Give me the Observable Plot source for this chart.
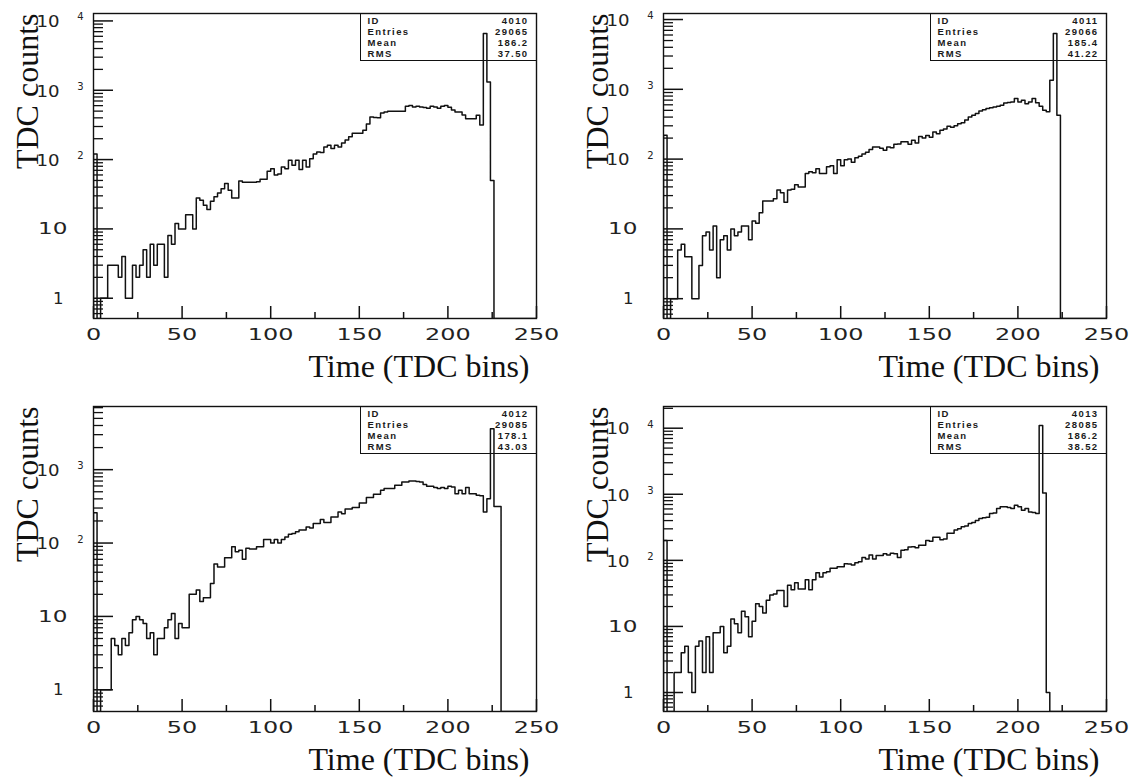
<!DOCTYPE html>
<html>
<head>
<meta charset="utf-8">
<script src="https://cdn.jsdelivr.net/npm/d3@7"></script>
<script src="https://cdn.jsdelivr.net/npm/@observablehq/plot@0.6"></script>
<style>
  html, body { margin: 0; padding: 0; background: #fff; }
  #page { position: relative; width: 1142px; height: 778px; overflow: hidden; background: #fff; }
  .panel { position: absolute; width: 571px; height: 385px; }
  .panel svg { overflow: visible; display: block; }
  .stats { position: absolute; left: 359.5px; top: 13px; width: 177px; height: 48px; box-sizing: border-box;
           border: 1.3px solid #111; padding-top: 0.5px;
           font-family: "Liberation Sans", Arial, sans-serif; font-weight: bold; font-size: 9.5px;
           letter-spacing: 1.4px; color: #1a1a1a; }
  .stats .row { display: flex; justify-content: space-between; height: 11.3px; line-height: 11.3px; padding: 0 7px 0 7px; }
</style>
</head>
<body>
<div id="page"></div>
<script>
// ---------------- data ----------------
const binWidth = 2;            // TDC bins per histogram bin, 125 bins over 0..250
const xMajorTicks = [0, 50, 100, 150, 200, 250];
const xMinorTicks = [25, 75, 125, 175, 225];
const yPowerTicks = [1, 10, 100, 1000, 10000];
const xTitle = "Time (TDC bins)";
const yTitle = "TDC counts";

const histIds = ["4010", "4011", "4012", "4013"];
const histEntries = ["29065", "29066", "29085", "28085"];
const histMeans = ["186.2", "185.4", "178.1", "186.2"];
const histRms = ["37.50", "41.22", "43.03", "38.52"];
const yMin = [0.51, 0.52, 0.506, 0.516];
const yMax = [12800, 12200, 7260, 21300];

const h4010 = [
  120, 0, 1, 1, 3, 3, 3, 2, 4, 1,
  1, 3, 2, 3, 5, 2, 6, 3, 6, 6,
  2, 8, 6, 12, 10, 10, 16, 16, 10, 28,
  26, 22, 19, 25, 29, 33, 38, 45, 36, 28,
  28, 49, 47, 47, 47, 47, 48, 52, 52, 68,
  74, 60, 62, 78, 74, 98, 83, 98, 72, 98,
  78, 103, 120, 129, 126, 152, 161, 145, 161, 152,
  174, 191, 214, 240, 240, 240, 265, 325, 410, 405,
  400, 470, 487, 500, 500, 500, 500, 500, 590, 605,
  575, 590, 575, 565, 548, 590, 575, 548, 590, 605,
  570, 520, 487, 487, 440, 387, 387, 387, 435, 316,
  6600, 1320, 50, 0, 0, 0, 0, 0, 0, 0,
  0, 0, 0, 0, 0
];
const h4011 = [
  219, 0, 1, 1, 5, 6, 4, 4, 1, 1,
  3, 8, 9, 5, 11, 2, 7, 8, 5, 10,
  8, 9, 11, 11, 7, 13, 12, 17, 25, 25,
  25, 27, 36, 33, 24, 36, 37, 43, 40, 40,
  62, 66, 64, 73, 62, 62, 78, 80, 62, 98,
  80, 98, 100, 90, 105, 110, 118, 125, 137, 149,
  149, 143, 134, 149, 146, 163, 165, 177, 177, 163,
  187, 170, 210, 200, 218, 205, 245, 230, 259, 270,
  295, 285, 300, 320, 331, 364, 401, 426, 450, 490,
  510, 530, 545, 560, 570, 590, 635, 645, 656, 737,
  660, 700, 620, 660, 737, 640, 570, 500, 477, 1350,
  6300, 426, 0, 0, 0, 0, 0, 0, 0, 0,
  0, 0, 0, 0, 0
];
const h4012 = [
  258, 0, 1, 1, 1, 5, 4, 3, 5, 4,
  6, 9, 10, 9, 8, 5, 6, 3, 5, 5,
  7, 9, 11, 5, 8, 7, 7, 20, 20, 23,
  16, 18, 18, 28, 52, 47, 47, 63, 63, 89,
  76, 80, 60, 85, 83, 83, 89, 89, 112, 112,
  100, 112, 100, 112, 121, 132, 135, 142, 150, 150,
  166, 160, 185, 185, 209, 190, 190, 227, 227, 265,
  250, 290, 290, 304, 304, 352, 352, 417, 417, 461,
  461, 523, 552, 552, 552, 612, 612, 678, 678, 700,
  700, 690, 678, 630, 593, 593, 570, 552, 570, 552,
  593, 580, 471, 523, 471, 570, 471, 471, 448, 440,
  265, 403, 3600, 316, 316, 0, 0, 0, 0, 0,
  0, 0, 0, 0, 0
];
const h4013 = [
  200, 0, 0, 2, 2, 4, 5, 2, 1, 5,
  6, 2, 7, 2, 8, 8, 10, 4, 5, 13,
  11, 8, 17, 14, 7, 12, 22, 20, 16, 25,
  30, 31, 35, 35, 20, 42, 36, 46, 37, 37,
  51, 36, 51, 65, 56, 65, 67, 76, 76, 80,
  80, 89, 88, 85, 92, 95, 110, 105, 120, 105,
  118, 118, 126, 120, 128, 126, 110, 142, 145, 159,
  160, 155, 170, 170, 200, 195, 223, 223, 205, 210,
  258, 258, 287, 300, 322, 330, 362, 375, 400, 430,
  440, 450, 510, 520, 610, 648, 648, 630, 610, 680,
  648, 575, 610, 540, 530, 510, 11000, 1050, 1, 0,
  0, 0, 0, 0, 0, 0, 0, 0, 0, 0,
  0, 0, 0, 0, 0
];
const histCounts = [h4010, h4011, h4012, h4013];

// ---------------- drawing ----------------
const panelPos = [[0, 0], [570, 0], [0, 393], [570, 393]];
const W = 571, H = 385, ML = 93, MR = 35, MT = 13, MB = 67;
const frameW = W - ML - MR, frameH = H - MT - MB;
const page = document.getElementById("page");

function outline(counts, floor) {
  // histogram outline as step points at bin edges; empty bins sit on the frame floor
  const pts = [{x: 0, y: floor}];
  counts.forEach((c, i) => pts.push({x: i * binWidth, y: c > 0 ? c : floor}));
  const last = counts[counts.length - 1];
  pts.push({x: counts.length * binWidth, y: last > 0 ? last : floor});
  pts.push({x: counts.length * binWidth, y: floor});
  return pts;
}

function widen(t, sx) {
  // stretch a label horizontally about its own anchor point
  const tr = t.getAttribute("transform");
  if (tr) t.setAttribute("transform", tr + ` scale(${sx},1)`);
  else {
    const x = +(t.getAttribute("x") || 0);
    t.setAttribute("x", x / sx);
    t.setAttribute("transform", `scale(${sx},1)`);
  }
}

histCounts.forEach((counts, k) => {
  const lo = yMin[k], hi = yMax[k];
  const minorY = [];
  for (let e = -1; e <= 5; e++) for (let m = 2; m <= 9; m++) {
    const v = m * Math.pow(10, e);
    if (v > lo && v < hi) minorY.push(v);
  }
  const powers = yPowerTicks.filter(v => v >= lo && v <= hi);
  const labels = powers.map(v => ({v, base: v === 1 ? "1" : "10", exp: v >= 100 ? String(Math.round(Math.log10(v))) : ""}));
  const ink = "#111";
  const lab = "#222";

  const svg = Plot.plot({
    width: W, height: H,
    marginLeft: ML, marginRight: MR, marginTop: MT, marginBottom: MB,
    x: {domain: [0, 250], axis: null},
    y: {type: "log", domain: [lo, hi], axis: null},
    style: {background: "#fff", color: ink, fontFamily: "DejaVu Sans", fontSize: "16px", overflow: "visible"},
    marks: [
      Plot.line(outline(counts, lo), {x: "x", y: "y", curve: "step-after", stroke: ink, strokeWidth: 1.5, clip: true}),
      Plot.frame({stroke: ink, strokeWidth: 1.4}),
      // inward ticks (rules inset to a fixed pixel length)
      Plot.ruleX(xMajorTicks, {x: d => d, insetTop: frameH - 12, stroke: ink, strokeWidth: 1.5}),
      Plot.ruleX(xMinorTicks, {x: d => d, insetTop: frameH - 6, stroke: ink, strokeWidth: 1.5}),
      Plot.ruleY(powers, {y: d => d, insetRight: frameW - 20, stroke: ink, strokeWidth: 1.5}),
      Plot.ruleY(minorY, {y: d => d, insetRight: frameW - 10, stroke: ink, strokeWidth: 1.3}),
      // tick labels
      Plot.text(xMajorTicks, {x: d => d, frameAnchor: "bottom", dy: 21.5, text: d => String(d),
        fontFamily: "DejaVu Sans", fontSize: 16.5, fill: lab}),
      Plot.text(labels.filter(d => d.v === 1), {y: "v", frameAnchor: "left", dx: -30, textAnchor: "end", text: "base",
        fontFamily: "DejaVu Sans, Verdana", fontSize: 16.5, fill: lab}),
      Plot.text(labels.filter(d => d.v === 10), {y: "v", frameAnchor: "left", dx: -26, textAnchor: "end", text: "base",
        fontFamily: "DejaVu Sans, sans-serif", fontSize: 16.5, fill: lab}),
      Plot.text(labels.filter(d => d.exp), {y: "v", frameAnchor: "left", dx: -34, dy: 1, textAnchor: "end", text: "base",
        fontFamily: "DejaVu Sans, Arial", fontSize: 16.5, fill: lab}),
      Plot.text(labels.filter(d => d.exp), {y: "v", frameAnchor: "left", dx: -10, dy: -0.5, textAnchor: "end", lineAnchor: "bottom",
        text: "exp", fontFamily: "DejaVu Sans, Verdana", fontSize: 10, fill: lab}),
      // titles
      Plot.text([yTitle], {frameAnchor: "top-left", dx: -56, dy: 0, rotate: -90, textAnchor: "end", lineAnchor: "bottom",
        text: d => d, fontFamily: "Liberation Serif", fontSize: 32, fill: "#111"}),
      Plot.text([xTitle], {frameAnchor: "bottom-right", dx: -7, dy: 58, textAnchor: "end", lineAnchor: "bottom",
        text: d => d, fontFamily: "Liberation Serif", fontSize: 32, fill: "#111"})
    ]
  });

  const div = document.createElement("div");
  div.className = "panel";
  div.style.left = panelPos[k][0] + "px";
  div.style.top = panelPos[k][1] + "px";
  div.appendChild(svg);

  // widen the tick-label glyphs like the old hardware font
  svg.querySelectorAll('g[font-family="DejaVu Sans"] text').forEach(t => widen(t, 1.45));
  svg.querySelectorAll('g[font-family="DejaVu Sans, sans-serif"] text').forEach(t => widen(t, 1.4));
  svg.querySelectorAll('g[font-family="DejaVu Sans, Arial"] text').forEach(t => widen(t, 1.1));

  const box = document.createElement("div");
  box.className = "stats";
  const rows = [["ID", histIds[k]], ["Entries", histEntries[k]], ["Mean", histMeans[k]], ["RMS", histRms[k]]];
  rows.forEach(([a, b]) => {
    const r = document.createElement("div");
    r.className = "row";
    const l = document.createElement("span"); l.textContent = a;
    const v = document.createElement("span"); v.textContent = b;
    r.appendChild(l); r.appendChild(v);
    box.appendChild(r);
  });
  div.appendChild(box);
  page.appendChild(div);
});
</script>
</body>
</html>
